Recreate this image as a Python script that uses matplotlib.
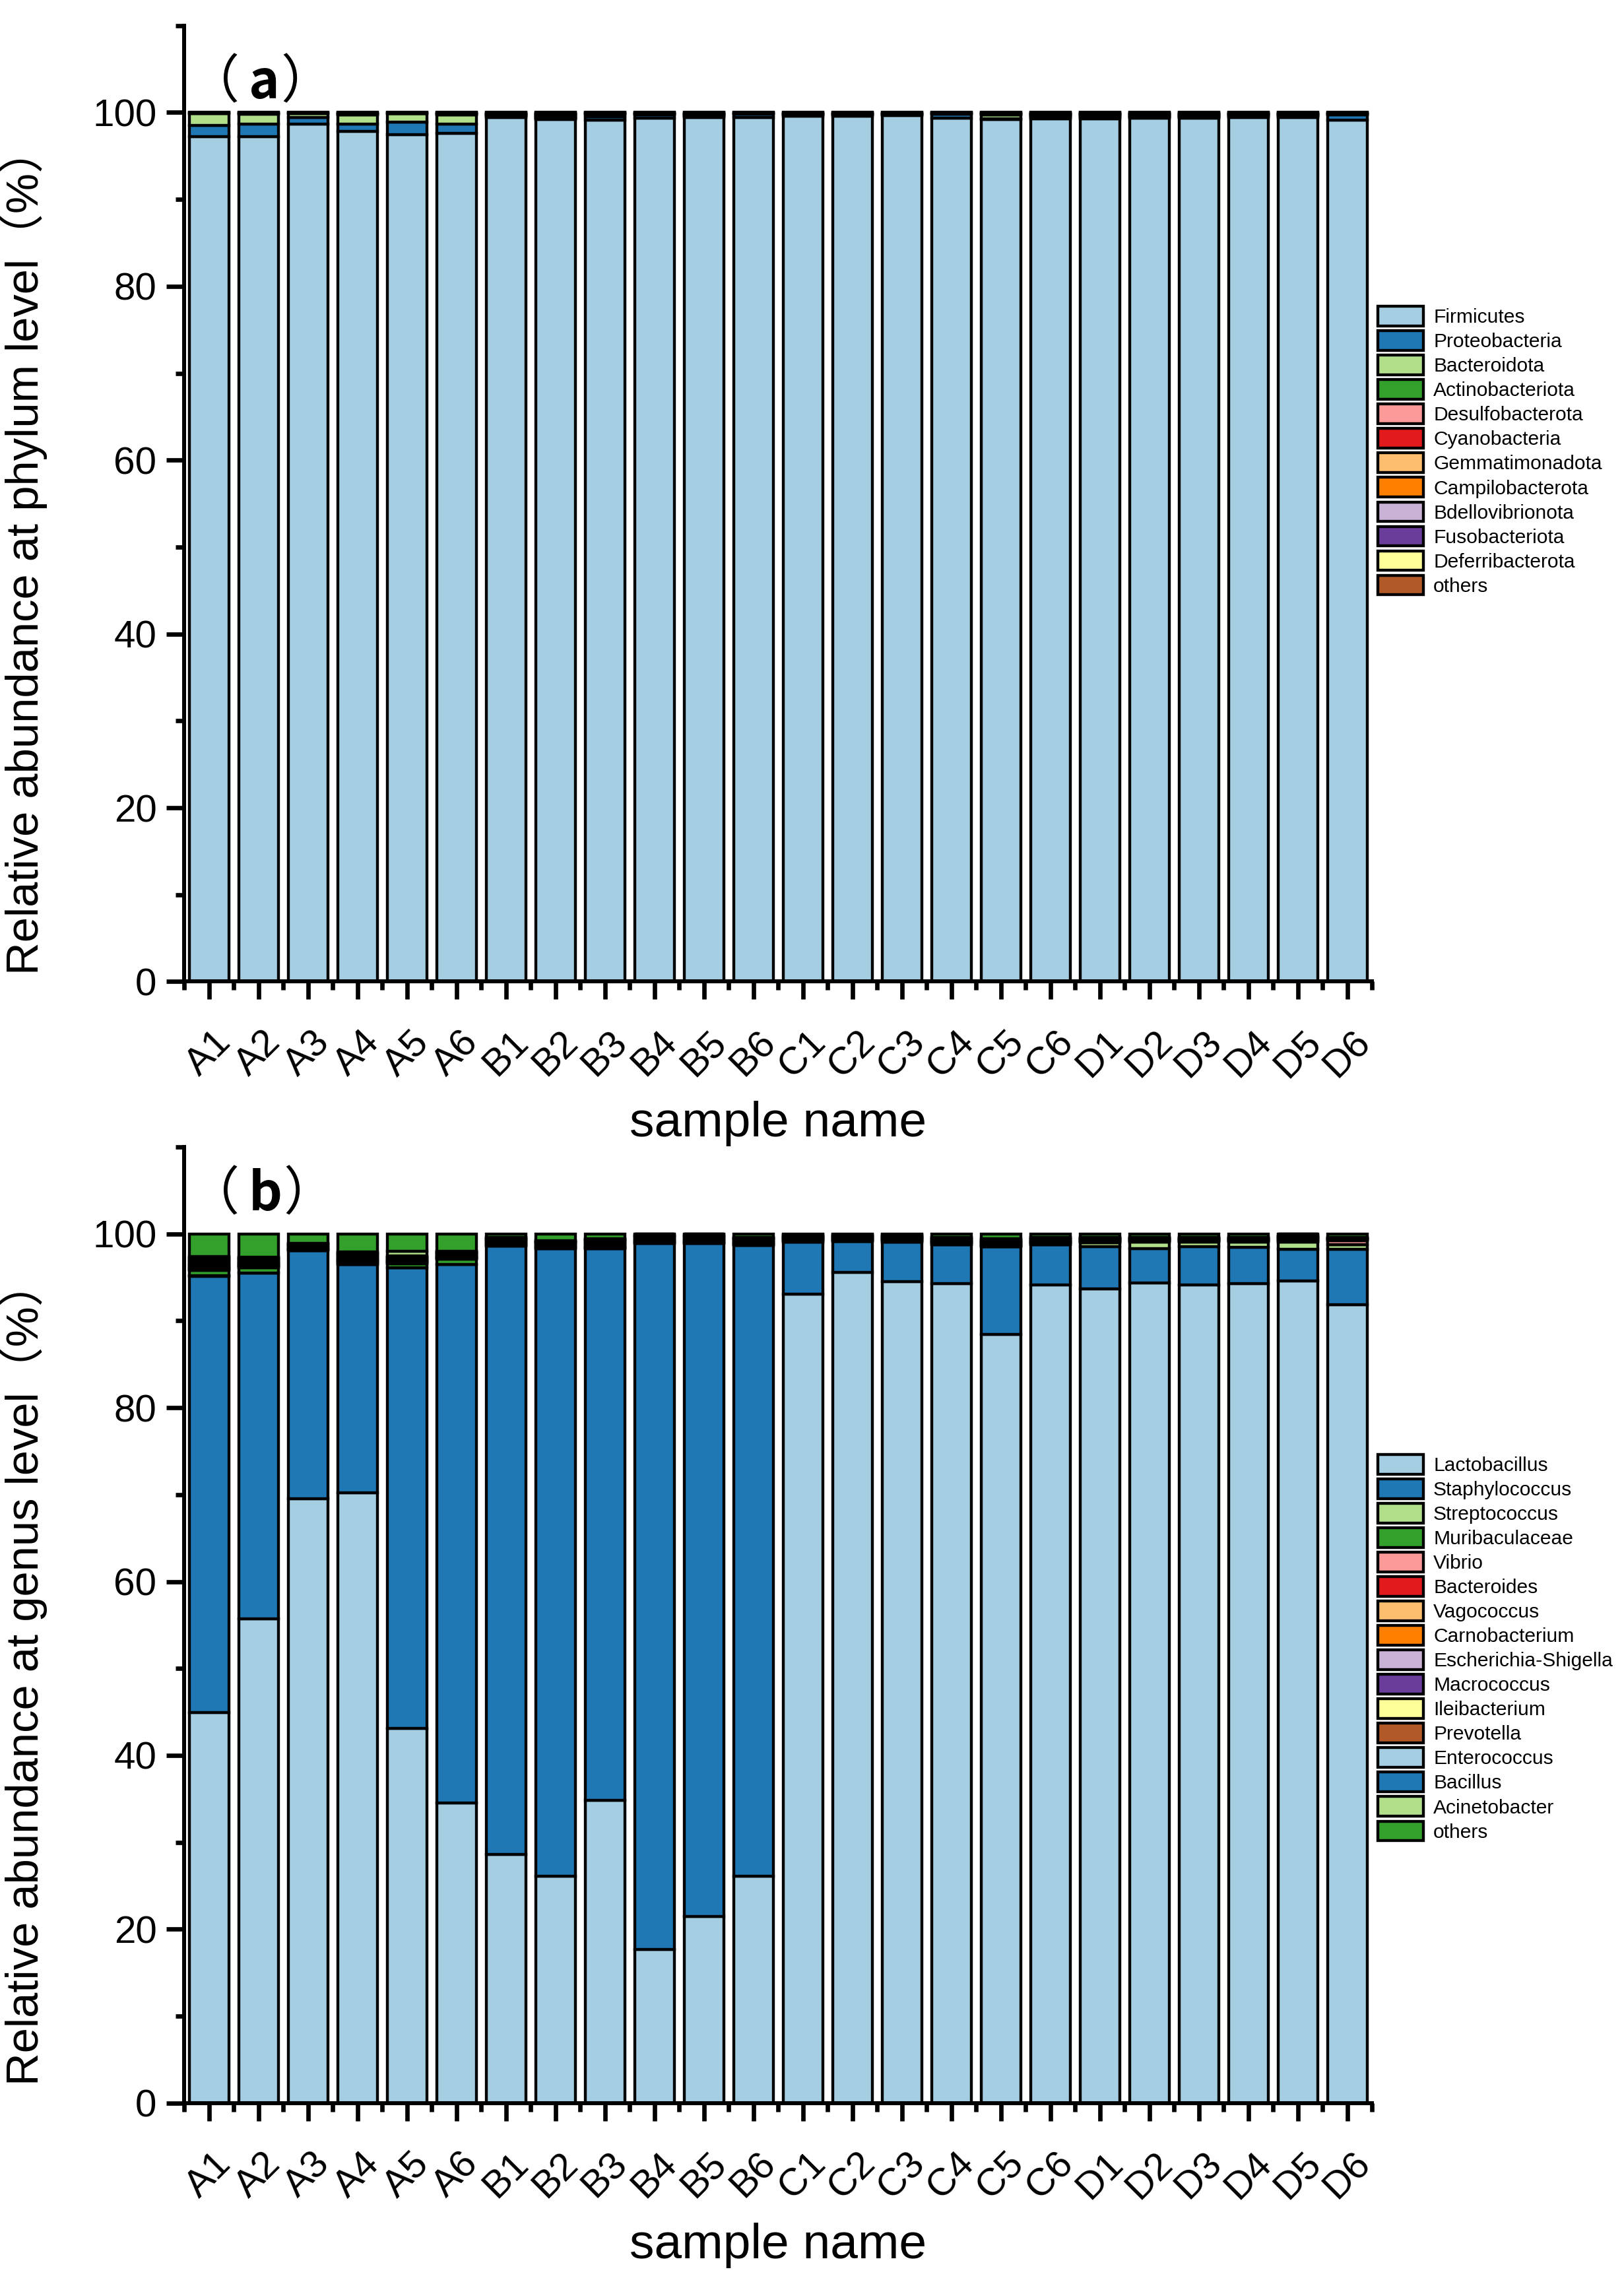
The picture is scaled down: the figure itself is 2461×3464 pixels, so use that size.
import numpy as np
import matplotlib
matplotlib.use("Agg")
import matplotlib.pyplot as plt
from matplotlib.ticker import MultipleLocator, FixedLocator

plt.rcParams["font.family"] = ["Liberation Sans", "Noto Sans CJK SC"]

samples = ["A1", "A2", "A3", "A4", "A5", "A6", "B1", "B2", "B3", "B4", "B5", "B6",
           "C1", "C2", "C3", "C4", "C5", "C6", "D1", "D2", "D3", "D4", "D5", "D6"]

# ---- phylum level (%) ----
phyla = ["Firmicutes", "Proteobacteria", "Bacteroidota", "Actinobacteriota", "Desulfobacterota",
         "Cyanobacteria", "Gemmatimonadota", "Campilobacterota", "Bdellovibrionota",
         "Fusobacteriota", "Deferribacterota", "others"]
firmicutes = [97.2, 97.2, 98.7, 97.8, 97.45, 97.6, 99.45, 99.2, 99.15, 99.35, 99.45, 99.45,
              99.6, 99.6, 99.65, 99.35, 99.2, 99.3, 99.3, 99.35, 99.35, 99.45, 99.45, 99.15]
proteobacteria = [1.3, 1.5, 0.7, 0.9, 1.45, 1.05, 0.1, 0.1, 0.35, 0.35, 0.1, 0.35,
                  0.1, 0.1, 0.1, 0.45, 0.1, 0.1, 0.1, 0.1, 0.1, 0.1, 0.1, 0.6]
bacteroidota = [1.4, 1.1, 0.5, 1.0, 0.95, 1.05, 0.05, 0.05, 0.3, 0.05, 0.05, 0.05,
                0.05, 0.05, 0.05, 0.05, 0.4, 0.05, 0.05, 0.05, 0.05, 0.05, 0.05, 0.05]
actinobacteriota = [0.02, 0.05, 0.02, 0.05, 0.03, 0.05, 0.05, 0.1, 0.03, 0.05, 0.05, 0.03,
                    0.05, 0.05, 0.04, 0.03, 0.05, 0.1, 0.1, 0.1, 0.1, 0.08, 0.08, 0.04]
desulfobacterota = [0.02, 0.03, 0.02, 0.05, 0.02, 0.05, 0.05, 0.08, 0.03, 0.03, 0.05, 0.02,
                    0.03, 0.03, 0.03, 0.02, 0.04, 0.07, 0.07, 0.06, 0.06, 0.05, 0.05, 0.03]
cyanobacteria = [0.01, 0.02, 0.01, 0.03, 0.02, 0.03, 0.05, 0.08, 0.02, 0.03, 0.05, 0.02,
                 0.03, 0.03, 0.02, 0.02, 0.03, 0.07, 0.07, 0.06, 0.06, 0.05, 0.05, 0.02]
gemmatimonadota = [0.01, 0.02, 0.01, 0.03, 0.01, 0.03, 0.05, 0.08, 0.02, 0.03, 0.05, 0.02,
                   0.03, 0.03, 0.02, 0.02, 0.03, 0.06, 0.06, 0.06, 0.06, 0.05, 0.05, 0.02]
campilobacterota = [0.01, 0.02, 0.01, 0.03, 0.02, 0.03, 0.05, 0.08, 0.03, 0.03, 0.05, 0.02,
                    0.03, 0.03, 0.03, 0.02, 0.04, 0.07, 0.07, 0.06, 0.06, 0.05, 0.05, 0.03]
bdellovibrionota = [0.01, 0.02, 0.01, 0.03, 0.01, 0.03, 0.04, 0.07, 0.02, 0.02, 0.04, 0.01,
                    0.02, 0.02, 0.02, 0.01, 0.03, 0.06, 0.06, 0.05, 0.05, 0.04, 0.04, 0.02]
fusobacteriota = [0.01, 0.01, 0.01, 0.03, 0.01, 0.03, 0.04, 0.06, 0.02, 0.02, 0.04, 0.01,
                  0.02, 0.02, 0.01, 0.01, 0.03, 0.05, 0.05, 0.05, 0.05, 0.04, 0.04, 0.01]
deferribacterota = [0.0, 0.01, 0.0, 0.02, 0.01, 0.02, 0.03, 0.05, 0.01, 0.02, 0.03, 0.01,
                    0.02, 0.02, 0.01, 0.01, 0.02, 0.04, 0.04, 0.04, 0.04, 0.02, 0.02, 0.01]
phylum_others = [0.01, 0.02, 0.01, 0.03, 0.02, 0.03, 0.04, 0.05, 0.02, 0.02, 0.04, 0.01,
                 0.02, 0.02, 0.02, 0.01, 0.03, 0.03, 0.03, 0.02, 0.02, 0.02, 0.02, 0.02]

# ---- genus level (%) ----
genera = ["Lactobacillus", "Staphylococcus", "Streptococcus", "Muribaculaceae", "Vibrio",
          "Bacteroides", "Vagococcus", "Carnobacterium", "Escherichia-Shigella", "Macrococcus",
          "Ileibacterium", "Prevotella", "Enterococcus", "Bacillus", "Acinetobacter", "others"]
lactobacillus = [44.9, 55.7, 69.5, 70.2, 43.1, 34.5, 28.6, 26.1, 34.8, 17.7, 21.5, 26.1,
                 93.1, 95.55, 94.5, 94.3, 88.4, 94.1, 93.65, 94.35, 94.1, 94.25, 94.55, 91.85]
staphylococcus = [50.2, 39.8, 28.6, 26.3, 53.0, 62.0, 70.0, 72.2, 63.5, 81.2, 77.4, 72.6,
                  5.95, 3.55, 4.55, 4.45, 10.1, 4.65, 4.85, 3.95, 4.4, 4.2, 3.65, 6.35]
streptococcus = [0.1, 0, 0, 0, 0, 0, 0, 0, 0, 0, 0, 0,
                 0, 0, 0, 0, 0, 0, 0.5, 0.75, 0.55, 0.6, 0.85, 0.55]
muribaculaceae = [0.6, 0.6, 0, 0, 0.45, 0.6, 0, 0, 0, 0, 0, 0,
                  0, 0, 0, 0, 0, 0, 0, 0, 0, 0, 0, 0]
vibrio = [0.05, 0.05, 0.05, 0.05, 0.05, 0.05, 0.05, 0.05, 0.1, 0.05, 0.05, 0.05,
          0.05, 0.05, 0.05, 0.05, 0.05, 0.05, 0.05, 0.05, 0.05, 0.05, 0.05, 0.45]
bacteroides = [0.2, 0.15, 0.1, 0.2, 0.15, 0.1, 0.05, 0.05, 0.05, 0.05, 0.05, 0.05,
               0.05, 0.05, 0.05, 0.05, 0.05, 0.05, 0.05, 0.05, 0.05, 0.05, 0.05, 0.05]
vagococcus = [0.1, 0.1, 0.1, 0.1, 0.1, 0.1, 0.15, 0.15, 0.15, 0.15, 0.15, 0.15,
              0.1, 0.1, 0.1, 0.1, 0.1, 0.1, 0.05, 0.05, 0.05, 0.05, 0.1, 0.05]
carnobacterium = [0.1, 0.1, 0.05, 0.1, 0.05, 0.05, 0.15, 0.1, 0.15, 0.15, 0.15, 0.1,
                  0.1, 0.1, 0.1, 0.1, 0.1, 0.1, 0.05, 0.05, 0.05, 0.05, 0.1, 0.05]
escherichia = [0.2, 0.15, 0.1, 0.15, 0.15, 0.15, 0.15, 0.15, 0.15, 0.15, 0.15, 0.15,
               0.1, 0.1, 0.1, 0.1, 0.15, 0.1, 0.1, 0.1, 0.1, 0.1, 0.15, 0.05]
macrococcus = [0.1, 0.05, 0.05, 0.1, 0.05, 0.05, 0.15, 0.15, 0.15, 0.2, 0.2, 0.15,
               0.1, 0.1, 0.1, 0.1, 0.1, 0.1, 0.05, 0.05, 0.05, 0.05, 0.1, 0.05]
ileibacterium = [0.2, 0.15, 0.1, 0.2, 0.15, 0.15, 0.05, 0.05, 0.05, 0.05, 0.05, 0.05,
                 0.05, 0.05, 0.05, 0.05, 0.05, 0.05, 0.05, 0.05, 0.05, 0.05, 0.05, 0.05]
prevotella = [0.2, 0.15, 0.05, 0.15, 0.1, 0.1, 0.05, 0.05, 0.05, 0.05, 0.05, 0.05,
              0.05, 0.05, 0.05, 0.05, 0.05, 0.05, 0.05, 0.05, 0.05, 0.05, 0.05, 0.05]
enterococcus = [0.15, 0.1, 0.1, 0.15, 0.1, 0.1, 0.1, 0.1, 0.15, 0.15, 0.15, 0.1,
                0.15, 0.1, 0.15, 0.15, 0.15, 0.15, 0.1, 0.05, 0.05, 0.05, 0.15, 0.05]
bacillus = [0.15, 0.1, 0.05, 0.1, 0.05, 0.05, 0.1, 0.05, 0.1, 0.1, 0.1, 0.05,
            0.1, 0.1, 0.1, 0.1, 0.15, 0.1, 0.05, 0.05, 0.05, 0.05, 0.15, 0.0]
acinetobacter = [0.15, 0.1, 0.05, 0.1, 0.5, 0, 0, 0, 0.05, 0, 0, 0,
                 0, 0, 0, 0, 0, 0, 0, 0, 0, 0, 0, 0]
genus_others = [2.6, 2.7, 1.1, 2.1, 2.0, 2.0, 0.4, 0.8, 0.55, 0, 0, 0.4,
                0.1, 0.1, 0.1, 0.4, 0.55, 0.4, 0.4, 0.4, 0.4, 0.4, 0, 0.4]

phylum_series = [firmicutes, proteobacteria, bacteroidota, actinobacteriota, desulfobacterota,
                 cyanobacteria, gemmatimonadota, campilobacterota, bdellovibrionota,
                 fusobacteriota, deferribacterota, phylum_others]
genus_series = [lactobacillus, staphylococcus, streptococcus, muribaculaceae, vibrio,
                bacteroides, vagococcus, carnobacterium, escherichia, macrococcus,
                ileibacterium, prevotella, enterococcus, bacillus, acinetobacter, genus_others]

paired = ["#a6cee3", "#1f78b4", "#b2df8a", "#33a02c", "#fb9a99", "#e31a1c",
          "#fdbf6f", "#ff7f00", "#cab2d6", "#6a3d9a", "#ffff99", "#b15928"]


def panel_tag(ax, x, y, tag):
    # thin full-width brackets spaced around a bold letter
    cjk = "Noto Sans CJK SC"
    t1 = ax.text(x, y, "（", transform=ax.transAxes, fontsize=19, family=cjk,
                 ha="left", va="bottom")
    t2 = ax.annotate(tag, xy=(1, 0), xycoords=t1, xytext=(3.2, 0), textcoords="offset points",
                     fontsize=19, family=cjk, fontweight="bold", ha="left", va="bottom")
    ax.annotate("）", xy=(1, 0), xycoords=t2, xytext=(0.3, 0), textcoords="offset points",
                fontsize=19, family=cjk, ha="left", va="bottom")


def stacked(ax, names, series, ylabel, tag, leg_y, tag_y):
    x = np.arange(len(samples))
    bottom = np.zeros(len(samples))
    for i, (name, vals) in enumerate(zip(names, series)):
        vals = np.asarray(vals, dtype=float)
        ax.bar(x, vals, bottom=bottom, width=0.8, color=paired[i % len(paired)],
               edgecolor="black", linewidth=1.05, label=name)
        bottom += vals

    ax.set_xlim(-0.5, len(samples) - 0.5)
    ax.set_ylim(0, 110)
    ax.yaxis.set_major_locator(FixedLocator([0, 20, 40, 60, 80, 100]))
    ax.yaxis.set_minor_locator(MultipleLocator(10))
    ax.set_xticks(x)
    ax.set_xticklabels(samples, rotation=45, ha="center")
    ax.xaxis.set_minor_locator(FixedLocator(np.arange(-0.5, len(samples), 1.0)))

    for s in ("top", "right"):
        ax.spines[s].set_visible(False)
    for s in ("left", "bottom"):
        ax.spines[s].set_linewidth(1.45)
    ax.tick_params(which="major", direction="out", length=6.5, width=1.6, labelsize=14)
    ax.tick_params(which="minor", direction="out", length=3.2, width=1.6)
    ax.tick_params(axis="x", which="major", pad=9)

    ax.set_xlabel("sample name", fontsize=18, labelpad=6)
    ax.set_ylabel(ylabel, fontsize=16.5)
    ax.yaxis.set_label_coords(-0.115, 0.45)
    panel_tag(ax, 0.003, tag_y, tag)

    ax.legend(loc="center left", bbox_to_anchor=(1.0, leg_y), frameon=False,
              fontsize=7.2, handlelength=2.3, handleheight=1.15, labelspacing=0.2,
              handletextpad=0.5, borderaxespad=0.0, borderpad=0.3)


fig = plt.figure(figsize=(2461 / 300, 3464 / 300), dpi=300)
ax_a = fig.add_axes([0.1134, 0.5706, 0.7314, 0.4182])
ax_b = fig.add_axes([0.1134, 0.0800, 0.7314, 0.4183])

stacked(ax_a, phyla, phylum_series, "Relative abundance at phylum level（%）", "a", 0.555, 0.912)
stacked(ax_b, genera, genus_series, "Relative abundance at genus level（%）", "b", 0.476, 0.922)

fig.savefig("out.png", dpi=300)
